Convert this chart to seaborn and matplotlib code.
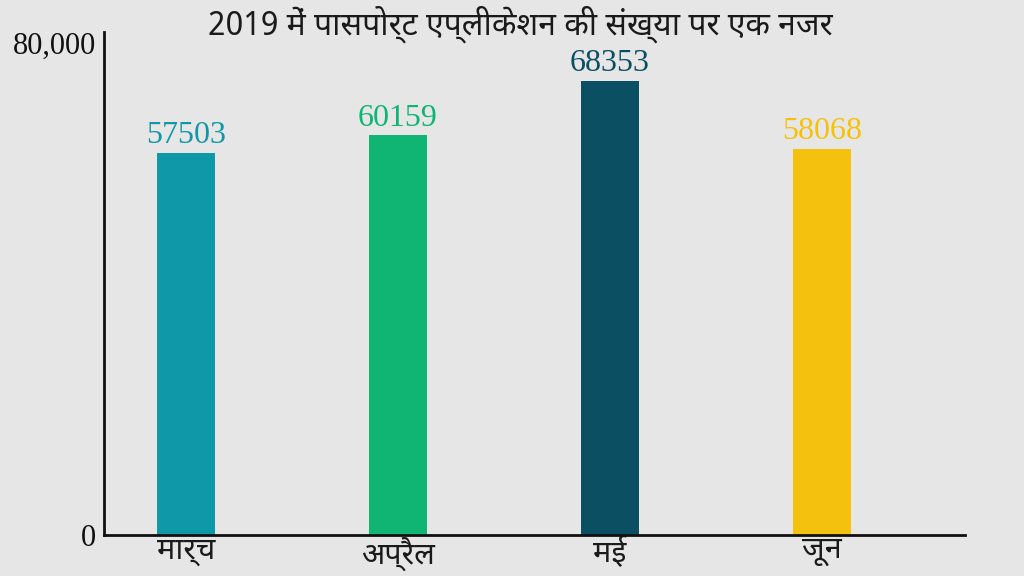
import matplotlib
matplotlib.use("Agg")
import matplotlib.pyplot as plt
import seaborn as sns
import pandas as pd

months = ["मार्च", "अप्रैल", "मई", "जून"]
applications = [57503, 60159, 68353, 58068]
bar_colors = ["#0e98a8", "#10b473", "#0b4f63", "#f4c10f"]
title = "2019 में पासपोर्ट एप्लीकेशन की संख्या पर एक नजर"
ytick_labels = ["0", "80,000"]

sns.set_theme(style="white")
plt.rcParams["font.family"] = ["Noto Sans Devanagari", "Lohit Devanagari", "Noto Sans", "DejaVu Sans"]

df = pd.DataFrame({"month": months, "count": applications})

fig = plt.figure(figsize=(10.24, 5.76), dpi=100)
fig.patch.set_facecolor("#e6e6e6")
ax = fig.add_axes([0.1016, 0.0712, 0.8408, 0.8732])
ax.set_facecolor("none")

sns.barplot(data=df, x="month", y="count", hue="month", palette=bar_colors,
            width=0.274, legend=False, ax=ax, saturation=1, linewidth=0,
            edgecolor="none")

for i, v in enumerate(applications):
    ax.annotate(str(v), (i, v), xytext=(0, 2), textcoords="offset points",
                ha="center", va="bottom", fontsize=23, color=bar_colors[i],
                family="Liberation Serif")

ax.set_xlim(-0.387, 3.675)
ax.set_ylim(0, 75700)
ax.set_yticks([0, 74000])
ax.set_yticklabels(ytick_labels, family="Liberation Serif", fontsize=22, color="#111111")
ax.tick_params(axis="both", length=0, pad=6)
ax.tick_params(axis="x", pad=1)
for lbl in ax.get_xticklabels():
    lbl.set_fontsize(22)
    lbl.set_fontweight("bold")
    lbl.set_color("#1a1a1a")
ax.set_xlabel("")
ax.set_ylabel("")
for s in ["top", "right"]:
    ax.spines[s].set_visible(False)
for s in ["left", "bottom"]:
    ax.spines[s].set_color("#111111")
    ax.spines[s].set_linewidth(2)

fig.text(0.508, 0.958, title, ha="center", va="center", fontsize=23,
         fontweight="bold", color="#1a1a1a")

fig.savefig("out.png", dpi=100, facecolor=fig.get_facecolor())
